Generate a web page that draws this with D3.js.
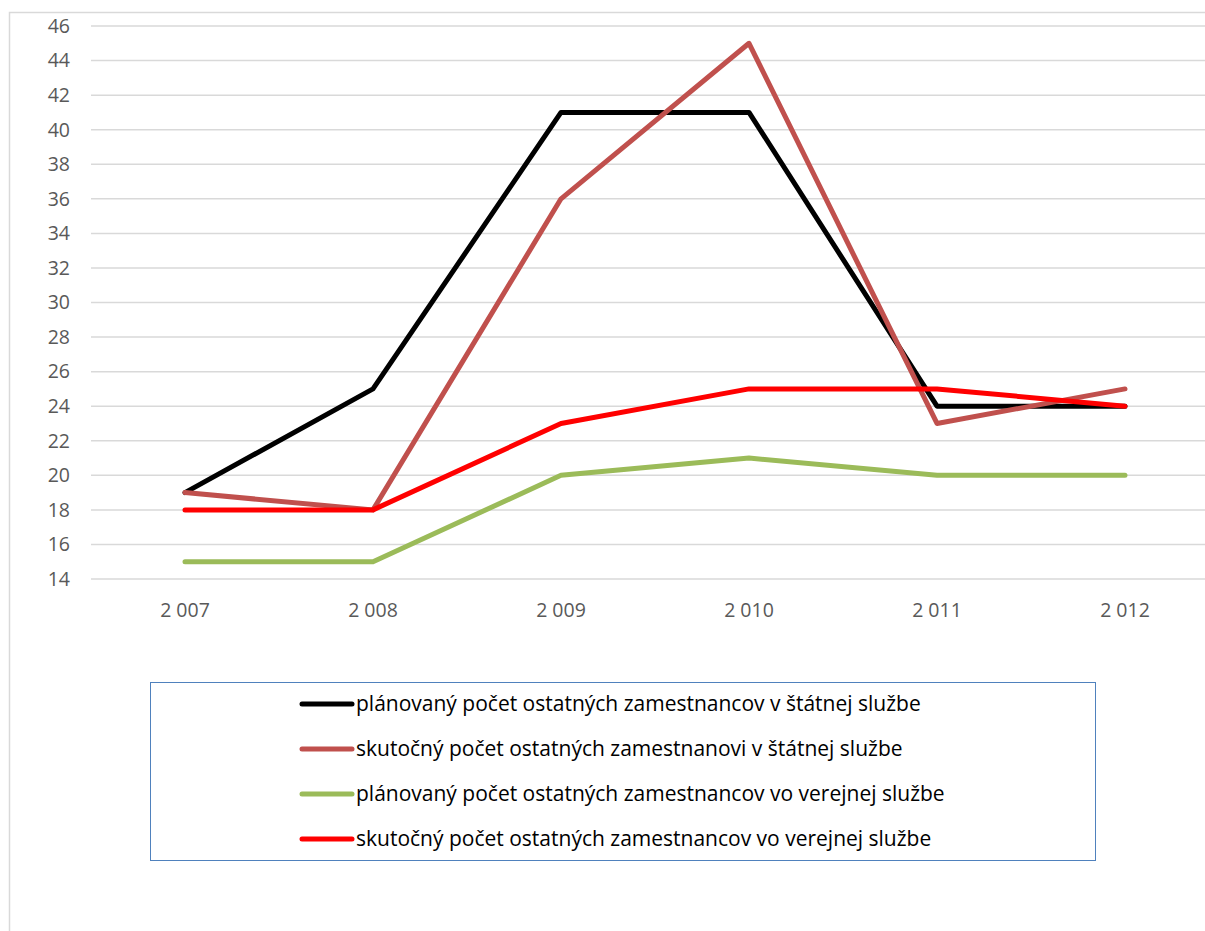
<!DOCTYPE html>
<html>
<head>
<meta charset="utf-8">
<script src="https://cdn.jsdelivr.net/npm/d3@7"></script>
<style>
  body { margin: 0; background: #fff; }
  svg { display: block; }
</style>
</head>
<body>
<div id="container"></div>
<script>
/* DATA */
const years = ["2 007", "2 008", "2 009", "2 010", "2 011", "2 012"];
const plannedState = [19, 25, 41, 41, 24, 24];
const actualState = [19, 18, 36, 45, 23, 25];
const plannedPublic = [15, 15, 20, 21, 20, 20];
const actualPublic = [18, 18, 23, 25, 25, 24];
const seriesNames = [
  "plánovaný počet ostatných zamestnancov v štátnej službe",
  "skutočný počet ostatných zamestnanovi v štátnej službe",
  "plánovaný počet ostatných zamestnancov vo verejnej službe",
  "skutočný počet ostatných zamestnancov vo verejnej službe"
];
const yTicks = d3.range(14, 47, 2);

const width = 1205, height = 931;
const colors = ["#000000", "#C0504D", "#9BBB59", "#FF0000"];
const series = [plannedState, actualState, plannedPublic, actualPublic];

const svg = d3.select("#container")
  .append("svg")
  .attr("width", width)
  .attr("height", height);

// outer chart border (cropped on right / bottom)
svg.append("rect")
  .attr("x", 9.5).attr("y", 12.5)
  .attr("width", 1300).attr("height", 1000)
  .attr("fill", "none")
  .attr("stroke", "#D9D9D9")
  .attr("stroke-width", 1.5);

// SCALES
const x = d3.scaleBand().domain(years).range([91, 1219]);
const y = d3.scaleLinear().domain([14, 46]).range([579, 26]);

// grid lines
svg.append("g")
  .selectAll("line")
  .data(yTicks)
  .join("line")
  .attr("x1", 91).attr("x2", 1219)
  .attr("y1", d => y(d)).attr("y2", d => y(d))
  .attr("stroke", "#D9D9D9")
  .attr("stroke-width", 1.5);

// y axis labels
svg.append("g")
  .selectAll("text")
  .data(yTicks)
  .join("text")
  .attr("x", 70)
  .attr("y", d => y(d))
  .attr("dy", "0.35em")
  .attr("text-anchor", "end")
  .attr("font-family", "Open Sans, sans-serif")
  .attr("font-size", 19.5)
  .attr("fill", "#595959")
  .text(d => d);

// x axis labels
svg.append("g")
  .selectAll("text")
  .data(years)
  .join("text")
  .attr("x", d => x(d) + x.bandwidth() / 2)
  .attr("y", 610)
  .attr("dy", "0.35em")
  .attr("text-anchor", "middle")
  .attr("font-family", "Open Sans, sans-serif")
  .attr("font-size", 19.5)
  .attr("fill", "#595959")
  .text(d => d);

// LINES
const lineGen = d3.line()
  .x((d, i) => x(years[i]) + x.bandwidth() / 2)
  .y(d => y(d));

svg.append("g")
  .selectAll("path")
  .data(series)
  .join("path")
  .attr("d", lineGen)
  .attr("fill", "none")
  .attr("stroke", (d, i) => colors[i])
  .attr("stroke-width", 5)
  .attr("stroke-linejoin", "round")
  .attr("stroke-linecap", "round");

// LEGEND
svg.append("rect")
  .attr("x", 150.5).attr("y", 682.5)
  .attr("width", 945).attr("height", 178)
  .attr("fill", "none")
  .attr("stroke", "#4F81BD")
  .attr("stroke-width", 1);

const legend = svg.append("g")
  .selectAll("g")
  .data(seriesNames)
  .join("g")
  .attr("transform", (d, i) => `translate(0, ${704 + i * 45})`);

legend.append("line")
  .attr("x1", 302).attr("x2", 352)
  .attr("stroke", (d, i) => colors[i])
  .attr("stroke-width", 5)
  .attr("stroke-linecap", "round");

legend.append("text")
  .attr("x", 356)
  .attr("dy", "0.35em")
  .attr("font-family", "Open Sans, sans-serif")
  .attr("font-size", 21)
  .attr("fill", "#000")
  .text(d => d);
</script>
</body>
</html>
